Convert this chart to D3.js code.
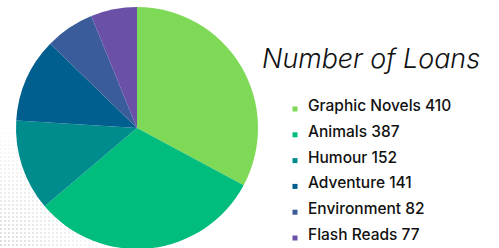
<!DOCTYPE html>
<html><head><meta charset="utf-8">
<script src="https://cdn.jsdelivr.net/npm/d3@7"></script>
<style>html,body{margin:0;padding:0;background:#fff;overflow:hidden}</style>
</head><body>
<script>
const categories = ["Graphic Novels","Animals","Humour","Adventure","Environment","Flash Reads"];
const loans = [410,387,152,141,82,77];
const colors = ["#7ED957","#00BC7D","#008C8C","#005F8F","#3A5C9B","#6A50A7"];
const title = "Number of Loans";

const W=499,H=248;
const svg=d3.select("body").append("svg").attr("width",W).attr("height",H);
const defs=svg.append("defs");
const pat=defs.append("pattern").attr("id","dots").attr("width",4).attr("height",4).attr("patternUnits","userSpaceOnUse");
pat.append("rect").attr("width",2).attr("height",2).attr("fill","#d4d4d4");
const grad=defs.append("radialGradient").attr("id","fade").attr("cx",0).attr("cy",1).attr("r",1);
grad.append("stop").attr("offset","0%").attr("stop-color","#fff").attr("stop-opacity",0.8);
grad.append("stop").attr("offset","100%").attr("stop-color","#fff").attr("stop-opacity",0);
const mask=defs.append("mask").attr("id","m");
mask.append("rect").attr("x",0).attr("y",120).attr("width",120).attr("height",128).attr("fill","url(#fade)");
svg.append("rect").attr("x",0).attr("y",120).attr("width",120).attr("height",128).attr("fill","url(#dots)").attr("mask","url(#m)");

const cx=137,cy=128,r=121;
const pie=d3.pie().sort(null)(loans);
const arc=d3.arc().innerRadius(0).outerRadius(r);
const g=svg.append("g").attr("transform",`translate(${cx},${cy})`);
g.selectAll("path").data(pie).join("path").attr("d",arc).attr("fill",(d,i)=>colors[i]);

svg.append("text").attr("x",262).attr("y",68).attr("font-family","Inter, 'Open Sans', sans-serif")
  .attr("font-style","italic").attr("font-weight",300).attr("font-size",26.5).attr("fill","#111")
  .attr("textLength",218).attr("lengthAdjust","spacingAndGlyphs").text(title);

const y=d3.scalePoint().domain(categories).range([111,240]);
const lg=svg.append("g");
lg.selectAll("rect").data(categories).join("rect").attr("x",292.5).attr("y",d=>y(d)-4.5)
  .attr("width",5).attr("height",5).attr("fill",(d,i)=>colors[i]);
lg.selectAll("text").data(categories).join("text").attr("x",308).attr("y",d=>y(d))
  .attr("font-family","Inter, 'Open Sans', sans-serif").attr("font-weight",500).attr("font-size",15.5).attr("fill","#111")
  .text((d,i)=>d+" "+loans[i]);
</script>
</body></html>
